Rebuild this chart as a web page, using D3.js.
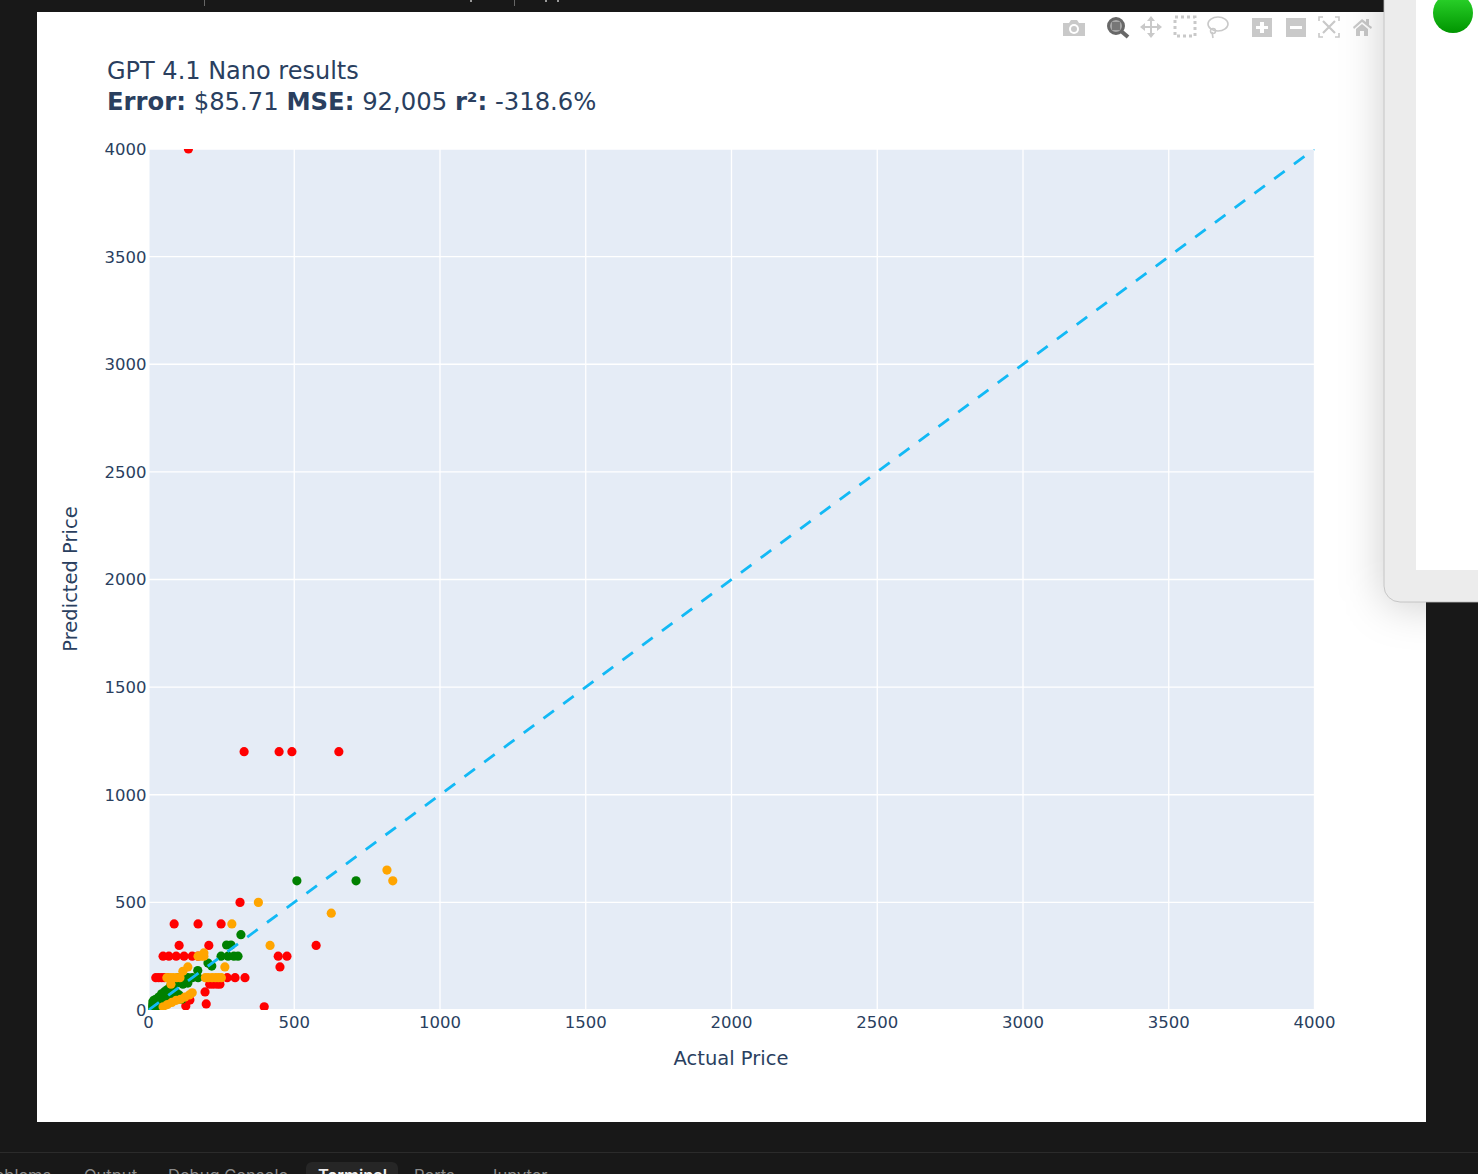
<!DOCTYPE html>
<html>
<head>
<meta charset="utf-8">
<script src="https://cdn.jsdelivr.net/npm/d3@7"></script>
<style>
html, body { margin: 0; padding: 0; background: #181818; overflow: hidden; }
text { font-family: "DejaVu Sans", Verdana, sans-serif; }
</style>
</head>
<body>
<svg id="page" width="1478" height="1174"></svg>
<script>
// values
var xTicks = [0, 500, 1000, 1500, 2000, 2500, 3000, 3500, 4000];
var yTicks = [0, 500, 1000, 1500, 2000, 2500, 3000, 3500, 4000];
var diagonal = [0, 4000];

var redActual = [137, 328, 448, 492, 653, 314, 88, 170, 249, 105, 207, 575, 50, 70, 95, 122, 150, 170, 445, 475, 451, 25, 35, 45, 55, 65, 270, 297, 331, 210, 222, 235, 245, 194, 198, 397, 128, 142];
var redPredicted = [4000, 1200, 1200, 1200, 1200, 500, 400, 400, 400, 300, 300, 300, 250, 250, 250, 250, 250, 250, 250, 250, 200, 150, 150, 150, 150, 150, 150, 150, 150, 120, 120, 120, 120, 84, 28, 15, 19, 46];

var greenActual = [509, 712, 317, 268, 283, 249, 273, 293, 307, 217, 204, 169, 101, 118, 135, 150, 170, 118, 135, 95, 110, 5, 10, 15, 20, 25, 30, 35, 40, 45, 50, 55, 60, 65, 70, 75, 80, 85, 90, 95, 100, 105, 110, 115, 8, 18, 28, 15, 25, 35, 45, 55, 65, 75, 85, 95, 105];
var greenPredicted = [600, 600, 350, 302, 302, 250, 250, 250, 250, 204, 218, 183, 150, 150, 150, 150, 150, 120, 125, 130, 140, 5, 15, 10, 30, 20, 40, 25, 50, 35, 60, 40, 80, 50, 60, 90, 70, 100, 60, 80, 50, 70, 60, 50, 30, 45, 15, 35, 50, 60, 75, 85, 95, 110, 115, 125, 130];

var orangeActual = [377, 286, 417, 627, 818, 838, 262, 170, 180, 190, 190, 135, 118, 63, 75, 85, 97, 108, 195, 205, 218, 230, 240, 250, 77, 150, 140, 125, 110, 95, 80, 65, 50];
var orangePredicted = [500, 400, 300, 450, 650, 600, 200, 250, 250, 250, 265, 200, 180, 150, 150, 150, 150, 150, 150, 150, 150, 150, 150, 150, 120, 80, 70, 60, 50, 45, 35, 25, 15];

var chartTitle = 'GPT 4.1 Nano results';
var bottomTabs = [['Problems', -22], ['Output', 84], ['Debug Console', 168], ['Terminal', 318], ['Ports', 414], ['Jupyter', 488]];

var svg = d3.select('#page');
var defs = svg.append('defs');

// window behind the chart
svg.append('rect').attr('x', 0).attr('y', 0).attr('width', 1478).attr('height', 1174).attr('fill', '#181818');
svg.append('rect').attr('x', 0).attr('y', 1152).attr('width', 1478).attr('height', 1).attr('fill', '#2b2b2b');
svg.append('rect').attr('x', 306).attr('y', 1162).attr('width', 92).attr('height', 20).attr('rx', 6).attr('fill', '#262626');
bottomTabs.forEach(function (t) {
	svg.append('text').attr('x', t[1]).attr('y', 1181)
		.style('font-size', '16.5px')
		.style('font-family', 'Inter, sans-serif')
		.style('font-weight', t[0] === 'Terminal' ? 600 : 400)
		.attr('fill', t[0] === 'Terminal' ? '#eeeeee' : '#8a8a8a')
		.text(t[0]);
});
[204, 514].forEach(function (x) {
	svg.append('rect').attr('x', x).attr('y', 0).attr('width', 1).attr('height', 6).attr('fill', '#666');
});
[470, 545, 557].forEach(function (x) {
	svg.append('rect').attr('x', x).attr('y', 0).attr('width', 2).attr('height', 2).attr('fill', '#999');
});

// white plot paper
svg.append('rect').attr('x', 37).attr('y', 12).attr('width', 1389).attr('height', 1110).attr('fill', '#ffffff');

var x = d3.scaleLinear().domain([0, 4000]).range([148.5, 1314.5]);
var y = d3.scaleLinear().domain([0, 4000]).range([1010, 149]);

svg.append('rect')
	.attr('x', x(0)).attr('y', y(4000))
	.attr('width', x(4000) - x(0)).attr('height', y(0) - y(4000))
	.attr('fill', '#e5ecf6');

defs.append('clipPath').attr('id', 'plotclip').append('rect')
	.attr('x', x(0)).attr('y', y(4000))
	.attr('width', x(4000) - x(0)).attr('height', y(0) - y(4000));

// axes with the grid as long ticks
var xAxis = svg.append('g').attr('transform', 'translate(0,' + y(0) + ')')
	.call(d3.axisBottom(x).offset(0).tickValues(xTicks).tickSize(-(y(0) - y(4000))).tickPadding(3).tickFormat(d3.format('d')));
var yAxis = svg.append('g').attr('transform', 'translate(' + x(0) + ',0)')
	.call(d3.axisLeft(y).offset(0).tickValues(yTicks).tickSize(-(x(4000) - x(0))).tickPadding(2).tickFormat(d3.format('d')));

[xAxis, yAxis].forEach(function (a) {
	a.select('.domain').remove();
	a.selectAll('line').attr('stroke', '#ffffff').attr('stroke-width', 1.3);
	a.selectAll('text').attr('fill', '#2a3f5f').style('font-size', '16.5px').style('font-family', '"DejaVu Sans", Verdana, sans-serif');
});
xAxis.selectAll('text').attr('dy', '0.9em');
yAxis.selectAll('text').attr('dy', '0.36em');
xAxis.selectAll('.tick').filter(function (d) { return d === 0; }).select('line').attr('stroke-width', 2);
yAxis.selectAll('.tick').filter(function (d) { return d === 0; }).select('line').attr('stroke-width', 2);

var plot = svg.append('g').attr('clip-path', 'url(#plotclip)');

function drawPoints(xs, ys, colour) {
	plot.append('g').selectAll('circle')
		.data(d3.zip(xs, ys))
		.enter()
		.append('circle')
		.attr('cx', function (d) { return x(d[0]); })
		.attr('cy', function (d) { return y(d[1]); })
		.attr('r', 4.6)
		.attr('fill', colour);
}
drawPoints(redActual, redPredicted, '#ff0000');
drawPoints(greenActual, greenPredicted, '#008000');
drawPoints(orangeActual, orangePredicted, '#ffa500');

plot.append('line')
	.attr('x1', x(diagonal[0])).attr('y1', y(diagonal[0]))
	.attr('x2', x(diagonal[1])).attr('y2', y(diagonal[1]))
	.attr('stroke', '#12b9f5')
	.attr('stroke-width', 2.8)
	.attr('stroke-dasharray', '13,11.55');

// titles
var title = svg.append('g').attr('fill', '#2a3f5f');
title.append('text').attr('x', 107).attr('y', 79).style('font-size', '24px').text(chartTitle);
var line2 = title.append('text').attr('x', 107).attr('y', 110).style('font-size', '24.3px');
line2.append('tspan').style('font-weight', 'bold').text('Error:');
line2.append('tspan').text(' $85.71 ');
line2.append('tspan').style('font-weight', 'bold').text('MSE:');
line2.append('tspan').text(' 92,005 ');
line2.append('tspan').style('font-weight', 'bold').text('r²:');
line2.append('tspan').text(' -318.6%');

svg.append('text').attr('x', 731).attr('y', 1065).attr('text-anchor', 'middle')
	.attr('fill', '#2a3f5f').style('font-size', '19.5px').text('Actual Price');
svg.append('text').attr('transform', 'translate(77,579) rotate(-90)').attr('text-anchor', 'middle')
	.attr('fill', '#2a3f5f').style('font-size', '19.5px').text('Predicted Price');

// modebar
var bar = svg.append('g').attr('fill', '#c9c9c9');
// camera
bar.append('path').attr('d', 'M1063 23h6l2-3h6l2 3h6v13h-22z');
bar.append('circle').attr('cx', 1074).attr('cy', 29).attr('r', 5).attr('fill', '#fff');
bar.append('circle').attr('cx', 1074).attr('cy', 29).attr('r', 3).attr('fill', '#c9c9c9');
// zoom, active
bar.append('circle').attr('cx', 1116).attr('cy', 26).attr('r', 7.5).attr('fill', '#a8a8a8').attr('stroke', '#686868').attr('stroke-width', 3);
bar.append('rect').attr('x', 1112).attr('y', 22).attr('width', 8).attr('height', 8).attr('fill', '#777');
bar.append('line').attr('x1', 1121).attr('y1', 31).attr('x2', 1128).attr('y2', 37).attr('stroke', '#686868').attr('stroke-width', 4);
// pan
bar.append('path').attr('d', 'M1151 16l4 5h-3v5h5v-3l5 4-5 4v-3h-5v5h3l-4 5-4-5h3v-5h-5v3l-5-4 5-4v3h5v-5h-3z');
// box select
bar.append('rect').attr('x', 1175).attr('y', 17).attr('width', 20).attr('height', 19).attr('fill', 'none').attr('stroke', '#c9c9c9').attr('stroke-width', 3).attr('stroke-dasharray', '3,3');
// lasso
bar.append('ellipse').attr('cx', 1218).attr('cy', 24).attr('rx', 10).attr('ry', 7).attr('fill', 'none').attr('stroke', '#c9c9c9').attr('stroke-width', 1.6);
bar.append('circle').attr('cx', 1213).attr('cy', 31).attr('r', 2.5).attr('fill', 'none').attr('stroke', '#c9c9c9').attr('stroke-width', 1.5);
bar.append('path').attr('d', 'M1212 32l1 6').attr('fill', 'none').attr('stroke', '#c9c9c9').attr('stroke-width', 1.6);
// zoom in / out
bar.append('rect').attr('x', 1252).attr('y', 18).attr('width', 20).attr('height', 19);
bar.append('path').attr('d', 'M1260 22h4v4h4v3h-4v4h-4v-4h-4v-3h4z').attr('fill', '#fff');
bar.append('rect').attr('x', 1286).attr('y', 18).attr('width', 20).attr('height', 19);
bar.append('rect').attr('x', 1290).attr('y', 26).attr('width', 12).attr('height', 3).attr('fill', '#fff');
// autoscale
bar.append('path').attr('d', 'M1323 17h-4v4M1335 17h4v4M1323 37h-4v-4M1335 37h4v-4').attr('fill', 'none').attr('stroke', '#c9c9c9').attr('stroke-width', 1.6);
bar.append('path').attr('d', 'M1323 21l12 12M1335 21l-12 12').attr('fill', 'none').attr('stroke', '#c9c9c9').attr('stroke-width', 2.2);
// home
bar.append('path').attr('d', 'M1353 27l9-8 4 3v-3h3v6l3 2-1 2-9-7-8 7zM1356 29l6-5 6 5v7h-4v-5h-4v5h-4z');

// window floating over the right side, its shadow only shows on the white paper
defs.append('clipPath').attr('id', 'paperclip').append('rect')
	.attr('x', 1316).attr('y', 12).attr('width', 110).attr('height', 1110);
defs.append('filter').attr('id', 'blur').attr('x', '-50%').attr('y', '-50%').attr('width', '200%').attr('height', '200%')
	.append('feGaussianBlur').attr('stdDeviation', 22);
svg.append('g').attr('clip-path', 'url(#paperclip)')
	.append('rect').attr('x', 1384).attr('y', -40).attr('width', 140).attr('height', 645).attr('rx', 16)
	.attr('fill', '#000').attr('fill-opacity', 0.2).attr('filter', 'url(#blur)');

svg.append('rect').attr('x', 1384).attr('y', -40).attr('width', 140).attr('height', 642).attr('rx', 16)
	.attr('fill', '#ececec').attr('stroke', '#bdbdbd').attr('stroke-width', 0.8);
svg.append('rect').attr('x', 1416).attr('y', 0).attr('width', 62).attr('height', 570).attr('fill', '#ffffff');

var ball = defs.append('linearGradient').attr('id', 'ball').attr('x1', 0).attr('y1', 0).attr('x2', 0).attr('y2', 1);
ball.append('stop').attr('offset', '0%').attr('stop-color', '#2fd92f');
ball.append('stop').attr('offset', '100%').attr('stop-color', '#009500');
svg.append('circle').attr('cx', 1453).attr('cy', 13).attr('r', 20).attr('fill', 'url(#ball)');
</script>
</body>
</html>
